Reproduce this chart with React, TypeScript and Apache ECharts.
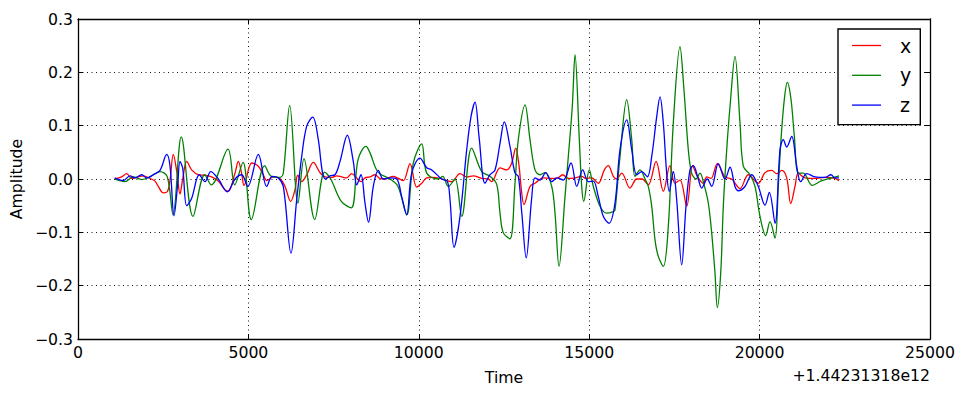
import React, { useEffect, useRef } from "react";
import * as echarts from "echarts";

// Time offsets (ms, relative to 1.44231318e12) and amplitudes
const seriesXData: [number, number][] = [
  [1077, 0], [1282, 0.004], [1429, 0.01], [1576, 0.001], [1769, 0.004], [1916, 0.006], [2113, 0.001],
  [2259, -0.004], [2356, -0.014], [2503, -0.026], [2620, -0.024], [2700, -0.002], [2796, 0.046],
  [2896, 0.015], [2993, -0.028], [3073, 0], [3190, 0.033], [3336, 0.017], [3530, 0.008], [3727, 0.007],
  [3923, 0.004], [4117, -0.004], [4313, -0.02], [4410, -0.023], [4607, 0.011], [4704, 0.033],
  [4803, 0.01], [4871, -0.012], [5097, 0.03], [5291, 0.024], [5437, 0.008], [5537, -0.003],
  [5731, 0.004], [5927, 0.001], [6074, -0.014], [6241, -0.042], [6367, -0.02], [6447, 0.007],
  [6564, -0.005], [6711, 0.008], [6905, 0.031], [7101, 0.012], [7248, 0.004], [7444, 0.003],
  [7591, 0.006], [7738, 0.004], [7884, 0.002], [8031, 0.01], [8178, 0.002], [8304, -0.005],
  [8421, 0.002], [8568, 0.004], [8715, 0.008], [8862, 0.001], [9009, 0], [9252, 0.005], [9399, 0.001],
  [9545, -0.003], [9742, 0.029], [9938, -0.015], [10085, -0.008], [10232, 0.002], [10426, 0.003],
  [10622, 0.001], [10819, -0.003], [10966, -0.005], [11209, 0.01], [11406, 0.004], [11599, 0.006],
  [11846, 0.001], [12040, 0], [12139, -0.005], [12383, 0.021], [12580, 0.017], [12726, 0.03],
  [12844, 0.058], [12941, 0.025], [13000, -0.014], [13087, -0.048], [13263, -0.014], [13410, -0.008],
  [13654, 0.002], [13900, 0.001], [14047, 0.001], [14223, 0.008], [14387, 0.001], [14584, 0.002],
  [14780, 0.005], [14906, 0.001], [15073, 0.002], [15267, -0.008], [15444, 0.017], [15561, 0.025],
  [15708, 0.005], [15807, 0], [15954, 0.011], [16197, -0.017], [16394, 0], [16550, 0], [16734, -0.011],
  [16961, 0.033], [17175, -0.023], [17370, 0.025], [17517, -0.008], [17664, -0.002], [17861, -0.051],
  [18037, 0.025], [18163, 0.006], [18348, -0.008], [18448, 0.004], [18574, 0.001], [18759, 0.029],
  [18985, 0.004], [19181, 0], [19425, -0.018], [19669, 0.008], [19962, -0.008], [20159, 0.012],
  [20355, 0.016], [20502, 0.01], [20649, 0.016], [20795, 0.002], [20913, -0.046], [21039, -0.014],
  [21136, 0.011], [21333, 0.002], [21626, 0.001], [21919, 0.003], [22213, 0.001], [22330, -0.003],
];

const seriesYData: [number, number][] = [
  [1077, 0], [1379, -0.005], [1623, 0.004], [1869, -0.001], [2113, 0.004], [2406, 0.014], [2620, 0.004],
  [2788, -0.067], [3031, 0.079], [3374, -0.07], [3718, 0.008], [3911, -0.011], [4401, 0.056],
  [4598, -0.011], [4842, 0.031], [5085, -0.076], [5478, 0.025], [5672, 0.005], [5927, 0.003],
  [6024, 0.011], [6212, 0.138], [6455, -0.045], [6631, 0.038], [6946, -0.076], [7239, 0.013],
  [7415, 0], [7726, -0.042], [8019, -0.054], [8216, 0.036], [8451, 0.061], [8568, 0.049], [8803, 0.013],
  [9155, 0], [9390, -0.014], [9645, -0.067], [9839, 0.03], [10085, 0.066], [10232, 0.011],
  [10572, 0], [10701, 0.005], [10866, -0.014], [11062, 0], [11259, -0.07], [11552, 0.058],
  [11846, 0.014], [12089, 0.005], [12286, -0.01], [12383, -0.064], [12480, -0.101], [12676, -0.112],
  [12823, -0.008], [12920, 0.074], [13117, 0.139], [13263, 0.074], [13410, 0.017], [13557, 0.008],
  [13704, 0.012], [13900, -0.014], [13997, -0.064], [14114, -0.164], [14290, -0.033], [14387, 0.042],
  [14504, 0.136], [14584, 0.233], [14710, 0.074], [14780, -0.014], [14839, -0.042], [15003, 0.017],
  [15121, -0.014], [15317, -0.051], [15514, -0.064], [15708, -0.061], [15758, -0.058], [15904, 0.042],
  [16101, 0.149], [16248, 0.074], [16344, 0.005], [16491, 0.017], [16638, 0], [16734, -0.014],
  [16834, -0.051], [16931, -0.114], [17028, -0.145], [17175, -0.164], [17321, -0.089], [17468, 0.105],
  [17664, 0.248], [17781, 0.167], [17908, 0.055], [18007, 0.011], [18133, 0], [18250, 0.011],
  [18368, -0.01], [18495, -0.045], [18594, -0.101], [18691, -0.176], [18759, -0.241], [18859, -0.176],
  [18935, -0.051], [19035, 0.055], [19132, 0.136], [19278, 0.23], [19425, 0.105], [19522, 0.024],
  [19718, 0.008], [19865, -0.014], [20011, -0.07], [20179, -0.106], [20305, -0.08], [20452, -0.111],
  [20549, -0.014], [20628, 0.074], [20725, 0.149], [20813, 0.181], [20922, 0.149], [21019, 0.08],
  [21136, 0.011], [21282, 0.011], [21546, -0.012], [21822, -0.003], [22116, 0.002], [22330, 0.006],
];

const seriesZData: [number, number][] = [
  [1077, 0.002], [1329, -0.003], [1526, 0.006], [1673, 0.002], [1869, 0.008], [2016, 0.002],
  [2210, 0.008], [2406, 0.016], [2603, 0.046], [2700, 0.024], [2817, -0.069], [2925, -0.01],
  [2993, 0.033], [3073, 0.02], [3190, -0.05], [3336, -0.036], [3559, 0.008], [3727, -0.005],
  [3894, 0.014], [4117, 0], [4381, -0.024], [4607, 0], [4803, 0.008], [4980, -0.014], [5291, 0.046],
  [5537, -0.014], [5701, 0.005], [5877, 0.002], [6024, -0.014], [6250, -0.139], [6417, -0.039],
  [6564, 0.042], [6711, 0.099], [6887, 0.116], [7051, 0.074], [7169, 0.014], [7268, 0], [7394, 0.006],
  [7541, 0.008], [7688, 0.033], [7902, 0.082], [8078, 0.033], [8178, -0.011], [8304, 0.008],
  [8421, -0.045], [8524, -0.081], [8665, -0.014], [8812, 0.016], [8958, 0], [9155, 0.002], [9352, 0],
  [9498, -0.033], [9645, -0.067], [9792, 0.011], [10035, 0.039], [10232, 0.021], [10379, 0.017],
  [10672, 0], [10836, -0.004], [10916, -0.039], [11033, -0.128], [11209, -0.07], [11406, 0.055],
  [11532, 0.117], [11649, 0.144], [11767, 0.08], [11943, -0.008], [12089, 0.008], [12236, 0.017],
  [12383, 0.067], [12509, 0.107], [12676, 0.061], [12823, 0.011], [12920, 0.005], [13023, -0.064],
  [13152, -0.148], [13308, -0.039], [13410, 0.002], [13557, -0.002], [13724, 0.012], [13900, -0.005],
  [14055, 0.002], [14240, -0.002], [14466, 0.03], [14634, -0.014], [14810, 0.017], [14974, -0.005],
  [15121, -0.004], [15267, -0.033], [15414, -0.07], [15581, -0.083], [15757, -0.045], [15904, 0.055],
  [16101, 0.111], [16248, 0.055], [16394, 0.008], [16541, 0.014], [16705, 0.004], [16834, 0.042],
  [16981, 0.117], [17078, 0.154], [17175, 0.105], [17273, 0.011], [17350, -0.023], [17468, 0.014],
  [17567, -0.039], [17714, -0.161], [17840, -0.051], [17957, 0.017], [18054, 0.025], [18201, 0],
  [18301, -0.017], [18465, 0], [18594, -0.014], [18788, 0.029], [18985, 0], [19132, 0.022],
  [19278, -0.014], [19375, -0.022], [19571, -0.014], [19768, 0.008], [19962, -0.014], [20159, -0.049],
  [20285, -0.025], [20452, -0.083], [20599, 0.055], [20696, 0.074], [20795, 0.06], [20942, 0.08],
  [21089, 0.024], [21206, -0.005], [21382, 0.01], [21626, 0.004], [21919, 0.003], [22095, 0.008],
  [22213, 0.002], [22330, 0.002],
];

const seriesNames = ["x", "y", "z"];
const seriesColors = ["#ff0000", "#008000", "#0000ff"];
const xTickLabels = ["0", "5000", "10000", "15000", "20000", "25000"];
const yTickLabels = ["\u22120.3", "\u22120.2", "\u22120.1", "0.0", "0.1", "0.2", "0.3"];
const xOffsetText = "+1.44231318e12";
const xAxisTitle = "Time";
const yAxisTitle = "Amplitude";

const FONT = "DejaVu Sans";
const FS = 15.7;

export default function App() {
  const ref = useRef<HTMLDivElement>(null);

  useEffect(() => {
    if (!ref.current) return;
    const chart = echarts.init(ref.current, null, { renderer: "svg" });
    const tick = { show: true, inside: true, length: 5, lineStyle: { color: "#000", width: 1 } };
    const line = { show: true, onZero: false, lineStyle: { color: "#000", width: 1.3 } };
    const grid = { show: true, lineStyle: { color: "#111", width: 1, type: [1, 3.5] } };
    const allData = [seriesXData, seriesYData, seriesZData];
    chart.setOption({
      animation: false,
      backgroundColor: "#fff",
      textStyle: { fontFamily: FONT },
      grid: { left: 78, top: 19, width: 852, height: 320, containLabel: false },
      xAxis: [
        {
          type: "value",
          position: "bottom",
          min: 0,
          max: 25000,
          interval: 5000,
          axisLine: line,
          axisTick: tick,
          axisLabel: {
            color: "#000",
            fontSize: FS,
            fontFamily: FONT,
            margin: 5,
            formatter: (v: number) => xTickLabels[Math.round(v / 5000)],
          },
          splitLine: grid,
          name: xAxisTitle,
          nameLocation: "middle",
          nameGap: 30,
          nameTextStyle: { color: "#000", fontSize: FS, fontFamily: FONT },
        },
        {
          type: "value",
          position: "top",
          min: 0,
          max: 25000,
          interval: 5000,
          axisLine: line,
          axisTick: tick,
          axisLabel: { show: false },
          splitLine: { show: false },
        },
      ],
      yAxis: [
        {
          type: "value",
          position: "left",
          min: -0.3,
          max: 0.3,
          interval: 0.1,
          axisLine: line,
          axisTick: tick,
          axisLabel: {
            color: "#000",
            fontSize: FS,
            fontFamily: FONT,
            margin: 5,
            formatter: (v: number) => yTickLabels[Math.round(v * 10) + 3],
          },
          splitLine: grid,
          name: yAxisTitle,
          nameLocation: "middle",
          nameRotate: 90,
          nameGap: 52,
          nameTextStyle: { color: "#000", fontSize: FS, fontFamily: FONT },
        },
        {
          type: "value",
          position: "right",
          min: -0.3,
          max: 0.3,
          interval: 0.1,
          axisLine: line,
          axisTick: tick,
          axisLabel: { show: false },
          splitLine: { show: false },
        },
      ],
      legend: {
        orient: "vertical",
        left: 838,
        top: 29,
        padding: [7, 9, 10, 13.4],
        borderColor: "#000",
        borderWidth: 1.4,
        backgroundColor: "#fff",
        itemWidth: 29,
        itemHeight: 18,
        itemGap: 10.8,
        itemStyle: { opacity: 0 },
        lineStyle: { width: 1.3 },
        textStyle: { color: "#000", fontSize: 19, fontFamily: FONT, lineHeight: 18, padding: [0, 0, 0, 14] },
        data: seriesNames,
      },
      graphic: [
        {
          type: "text",
          right: 35,
          top: 367,
          style: { text: xOffsetText, fill: "#000", font: `${FS}px '${FONT}'` },
        },
      ],
      series: seriesNames.map((name, i) => ({
        name,
        type: "line",
        data: allData[i],
        showSymbol: false,
        symbol: "none",
        smooth: 0.35,
        clip: true,
        lineStyle: { color: seriesColors[i], width: 1.3 },
        itemStyle: { color: seriesColors[i] },
        emphasis: { disabled: true },
      })),
    });
    return () => chart.dispose();
  }, []);

  return (
    <div
      ref={ref}
      style={{ position: "absolute", left: 0, top: 0, width: 965, height: 397, background: "#fff" }}
    />
  );
}
